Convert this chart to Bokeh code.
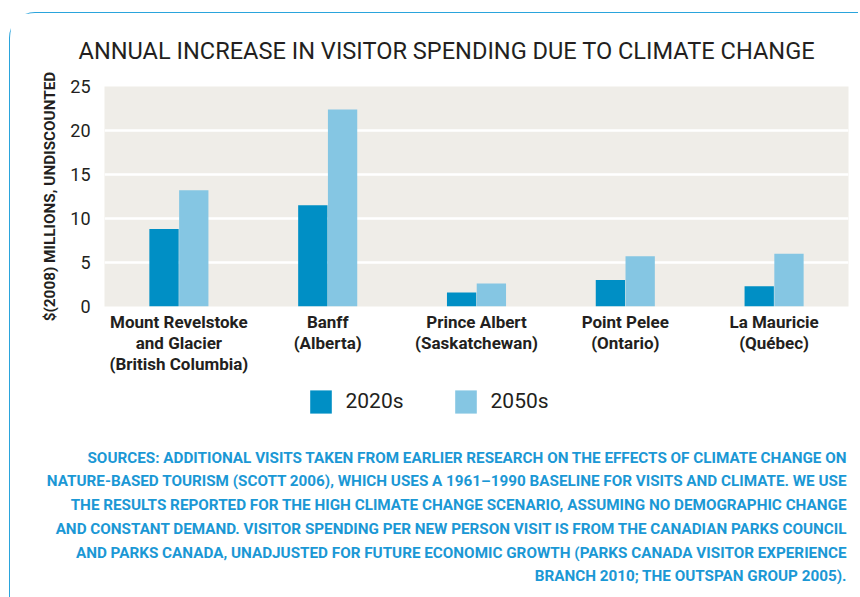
from bokeh.plotting import figure
from bokeh.layouts import column
from bokeh.models import (ColumnDataSource, FactorRange, Range1d, FixedTicker, Div,
                          Legend, LegendItem)
from bokeh.transform import dodge
from bokeh.embed import file_html
from bokeh.resources import INLINE

# ---- data ----
parks = [
    "Mount Revelstoke\nand Glacier\n(British Columbia)",
    "Banff\n(Alberta)",
    "Prince Albert\n(Saskatchewan)",
    "Point Pelee\n(Ontario)",
    "La Mauricie\n(Québec)",
]
spend_2020s = [8.8, 11.5, 1.6, 3.0, 2.3]
spend_2050s = [13.2, 22.4, 2.6, 5.7, 6.0]
series_names = ["2020s", "2050s"]
y_ticks = [0, 5, 10, 15, 20, 25]
title_text = "ANNUAL INCREASE IN VISITOR SPENDING DUE TO CLIMATE CHANGE"
y_label = "$(2008) MILLIONS, UNDISCOUNTED"
source_lines = [
    "SOURCES: ADDITIONAL VISITS TAKEN FROM EARLIER RESEARCH ON THE EFFECTS OF CLIMATE CHANGE ON",
    "NATURE-BASED TOURISM (SCOTT 2006), WHICH USES A 1961\u20131990 BASELINE FOR VISITS AND CLIMATE. WE USE",
    "THE RESULTS REPORTED FOR THE HIGH CLIMATE CHANGE SCENARIO, ASSUMING NO DEMOGRAPHIC CHANGE",
    "AND CONSTANT DEMAND. VISITOR SPENDING PER NEW PERSON VISIT IS FROM THE CANADIAN PARKS COUNCIL",
    "AND PARKS CANADA, UNADJUSTED FOR FUTURE ECONOMIC GROWTH (PARKS CANADA VISITOR EXPERIENCE",
    "BRANCH 2010; THE OUTSPAN GROUP 2005).",
]

# ---- style ----
FONT = "Roboto"
DARK = "#231f20"
C2020 = "#008fc5"
C2050 = "#85c6e3"
BLUE_TXT = "#1b98d5"
BG = "#efede8"
BORDER = "#2aa4dc"

# page offsets created by the rounded border (margin + border width)
OX, OY = 10, 13
W = 848
TOP_H = 368
LEG_H = 66
SRC_H = 597 - OY - TOP_H - LEG_H
LEFT = 104 - OX
RIGHT = W - LEFT - 744

src = ColumnDataSource(dict(park=parks, a=spend_2020s, b=spend_2050s))

p = figure(width=W, height=TOP_H, output_backend="svg", toolbar_location=None,
           x_range=FactorRange(*parks, range_padding=0), y_range=Range1d(0, 25),
           min_border_left=LEFT, min_border_right=RIGHT,
           min_border_top=86 - OY, min_border_bottom=TOP_H - (86 - OY) - 220)
p.outline_line_color = None
p.background_fill_color = BG
p.border_fill_color = "white"

p.vbar(x=dodge("park", -0.1, range=p.x_range), top="a", width=0.197, source=src,
       fill_color=C2020, line_color=None)
p.vbar(x=dodge("park", 0.1, range=p.x_range), top="b", width=0.197, source=src,
       fill_color=C2050, line_color=None)

# title
p.title.text = title_text
p.title.align = "left"
p.title.offset = -26
p.title.standoff = 43
p.title.text_font = FONT
p.title.text_font_size = "23.6px"
p.title.text_font_style = "normal"
p.title.text_color = DARK

# axes
p.yaxis.ticker = FixedTicker(ticks=y_ticks)
p.yaxis.axis_line_color = None
p.yaxis.major_tick_line_color = None
p.yaxis.minor_tick_line_color = None
p.yaxis.major_tick_out = 0
p.yaxis.major_label_standoff = 14
p.yaxis.major_label_text_font = FONT
p.yaxis.major_label_text_font_size = "18px"
p.yaxis.major_label_text_color = DARK
p.yaxis.axis_label = y_label
p.yaxis.axis_label_text_font = FONT
p.yaxis.axis_label_text_font_size = "15.3px"
p.yaxis.axis_label_text_font_style = "bold"
p.yaxis.axis_label_text_color = DARK
p.yaxis.axis_label_standoff = 8

p.xaxis.axis_line_color = None
p.xaxis.major_tick_line_color = None
p.xaxis.major_tick_out = 0
p.xaxis.major_label_standoff = 5
p.xaxis.major_label_text_font = FONT
p.xaxis.major_label_text_font_size = "17px"
p.xaxis.major_label_text_font_style = "bold"
p.xaxis.major_label_text_line_height = 1.05
p.xaxis.major_label_text_color = DARK

p.xgrid.grid_line_color = None
p.ygrid.ticker = FixedTicker(ticks=y_ticks)
p.ygrid.grid_line_color = "white"
p.ygrid.grid_line_width = 2.5

# ---- legend strip (same frame as the chart; series renderers kept hidden) ----
q = figure(width=W, height=LEG_H, output_backend="svg", toolbar_location=None,
           x_range=FactorRange(*parks, range_padding=0), y_range=Range1d(0, 25),
           min_border_left=LEFT, min_border_right=RIGHT, min_border_top=0,
           min_border_bottom=0, x_axis_type=None, y_axis_type=None)
q.outline_line_color = None
q.grid.visible = False
q.background_fill_color = "white"
q.border_fill_color = "white"

k1 = q.vbar(x=dodge("park", -0.1, range=q.x_range), top="a", width=0.197, source=src,
            fill_color=C2020, line_color=None, visible=False)
k2 = q.vbar(x=dodge("park", 0.1, range=q.x_range), top="b", width=0.197, source=src,
            fill_color=C2050, line_color=None, visible=False)
legend = Legend(items=[LegendItem(label=series_names[0], renderers=[k1]),
                       LegendItem(label=series_names[1], renderers=[k2])],
                orientation="horizontal", location=(307 - 104, (OY + TOP_H + LEG_H) - 416),
                padding=0, margin=0, spacing=48, glyph_width=27, glyph_height=29,
                label_standoff=12, label_text_font=FONT, label_text_font_size="21px",
                label_text_color=DARK, border_line_color=None, background_fill_alpha=0,
                inactive_fill_alpha=0)
q.add_layout(legend, "center")

# ---- sources note ----
sources = Div(text="<br>".join(source_lines), width=847 - OX, height=SRC_H,
              styles={"font-family": FONT, "font-weight": "bold", "font-size": "15.25px",
                      "color": BLUE_TXT, "line-height": "23.8px", "text-align": "right",
                      "white-space": "nowrap", "margin": "0", "padding": "0"})

layout = column(p, q, sources, spacing=0, styles={
    "margin-left": "8.5px", "margin-top": "11.5px",
    "border-left": f"1.5px solid {BORDER}", "border-top": f"1.5px solid {BORDER}",
    "border-top-left-radius": "26px",
})

open("out.html", "w").write(file_html(layout, INLINE))
